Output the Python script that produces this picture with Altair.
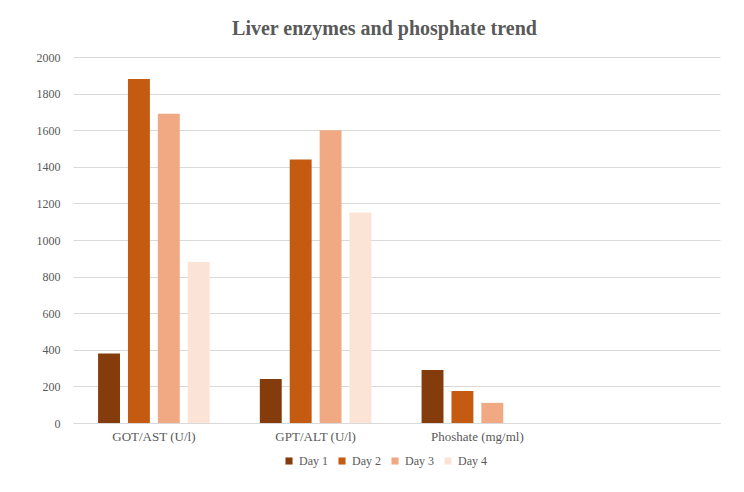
import altair as alt
import pandas as pd

categories = ["GOT/AST (U/l)", "GPT/ALT (U/l)", "Phoshate (mg/ml)"]
days = ["Day 1", "Day 2", "Day 3", "Day 4"]
got_ast = [380, 1880, 1690, 880]
gpt_alt = [240, 1440, 1600, 1150]
phosphate = [290, 175, 110]
colors = ["#843C0C", "#C55A11", "#F1A983", "#FBE3D6"]

rows = []
for cat, vals in zip(categories, [got_ast, gpt_alt, phosphate]):
    for d, v in zip(days, vals):
        rows.append({"cat": cat, "day": d, "value": v})
df = pd.DataFrame(rows)

FONT = "Liberation Serif"
GRAY = "#595959"

chart = alt.Chart(df).mark_bar().encode(
    x=alt.X("cat:N", sort=None,
            scale=alt.Scale(domain=categories + [" "], paddingInner=0.31, paddingOuter=0.155),
            axis=alt.Axis(title=None, labelAngle=0, ticks=False, domainColor="#d9d9d9",
                          labelFont=FONT, labelFontSize=13, labelColor=GRAY, labelPadding=7)),
    xOffset=alt.XOffset("day:N", scale=alt.Scale(domain=days, paddingInner=0.267, paddingOuter=0)),
    y=alt.Y("value:Q", scale=alt.Scale(domain=[0, 2000], nice=False),
            axis=alt.Axis(title=None, values=list(range(0, 2001, 200)), format="d", domain=False,
                          ticks=False, gridColor="#d9d9d9", labelFont=FONT, labelFontSize=12,
                          labelColor=GRAY, labelPadding=13)),
    color=alt.Color("day:N", scale=alt.Scale(domain=days, range=colors),
                    legend=alt.Legend(title=None, orient="none", legendX=210, legendY=398,
                                      direction="horizontal", columns=4, symbolType="square",
                                      symbolSize=50, symbolStrokeWidth=0, labelFont=FONT,
                                      labelFontSize=12, labelColor=GRAY, columnPadding=8,
                                      labelOffset=4)),
).properties(
    width=647, height=366,
    title=alt.TitleParams("Liver enzymes and phosphate trend", font=FONT, fontSize=20,
                          fontWeight="bold", color=GRAY, offset=12, dx=-12),
    autosize=alt.AutoSizeParams(type="none"),
    padding={"left": 73, "top": 57, "right": 24, "bottom": 69},
    background="white",
).configure_view(stroke=None)

chart.save("out.html", embed_options={"renderer": "svg", "actions": False})
